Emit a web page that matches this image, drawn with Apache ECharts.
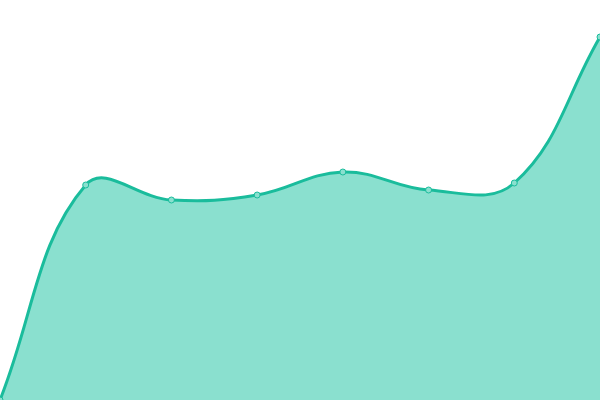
<!DOCTYPE html>
<html>
<head>
<meta charset="utf-8">
<script src="https://cdn.jsdelivr.net/npm/echarts@6/dist/echarts.min.js"></script>
<style>
  html, body { margin: 0; padding: 0; background: #fff; }
  #main { width: 600px; height: 400px; }
</style>
</head>
<body>
<div id="main"></div>
<script>
// data
var categories = ['1', '2', '3', '4', '5', '6', '7', '8'];
var values = [0, 215, 200, 205, 228, 210, 217, 363];

var lineColor = '#1abc9c';
var areaColor = '#8ae0cf';
var tension = 0.4;

// spline through the points, control points scaled by neighbour distances
function controlPoints(prev, cur, next) {
  var d01 = Math.hypot(cur[0] - prev[0], cur[1] - prev[1]);
  var d12 = Math.hypot(next[0] - cur[0], next[1] - cur[1]);
  var sum = d01 + d12 || 1;
  var fa = tension * d01 / sum;
  var fb = tension * d12 / sum;
  var vx = next[0] - prev[0], vy = next[1] - prev[1];
  return {
    before: [cur[0] - fa * vx, cur[1] - fa * vy],
    after: [cur[0] + fb * vx, cur[1] + fb * vy]
  };
}

// whole curve is drawn once, on the first item
function renderCurve(params, api) {
  if (params.dataIndex !== 0) return null;
  var pts = values.map(function (v, i) {
    return api.coord([i, v]);
  });
  var n = pts.length;
  var cps = pts.map(function (p, i) {
    return controlPoints(pts[Math.max(i - 1, 0)], p, pts[Math.min(i + 1, n - 1)]);
  });
  var d = 'M' + pts[0][0] + ' ' + pts[0][1];
  for (var i = 0; i < n - 1; i++) {
    var a = cps[i].after, b = cps[i + 1].before, p = pts[i + 1];
    d += ' C' + a[0] + ' ' + a[1] + ' ' + b[0] + ' ' + b[1] + ' ' + p[0] + ' ' + p[1];
  }
  var base = api.coord([0, 0])[1];
  var area = d + ' L' + pts[n - 1][0] + ' ' + base + ' L' + pts[0][0] + ' ' + base + ' Z';
  return {
    type: 'group',
    children: [{
      type: 'path',
      shape: { pathData: area },
      style: { fill: areaColor, stroke: null }
    }, {
      type: 'path',
      shape: { pathData: d },
      style: { fill: null, stroke: lineColor, lineWidth: 3 }
    }]
  };
}

var chart = echarts.init(document.getElementById('main'));
var option = {
  animation: false,
  grid: { left: 0, right: 0, top: 0, bottom: 0 },
  xAxis: {
    type: 'category',
    boundaryGap: false,
    data: categories,
    show: false
  },
  yAxis: {
    type: 'value',
    min: 0,
    max: 400,
    show: false
  },
  series: [{
    type: 'custom',
    renderItem: renderCurve,
    clip: false,
    data: values.map(function (v, i) { return [i, v]; }),
    z: 1
  }, {
    type: 'line',
    data: values,
    symbol: 'circle',
    symbolSize: 6,
    showAllSymbol: true,
    itemStyle: {
      color: areaColor,
      borderColor: lineColor,
      borderWidth: 1
    },
    lineStyle: { width: 0, opacity: 0 },
    z: 3
  }]
};
chart.setOption(option);
</script>
</body>
</html>
